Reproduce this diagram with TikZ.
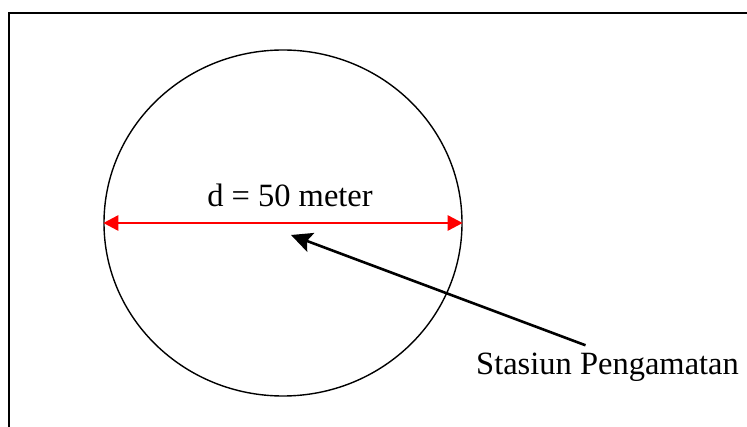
\documentclass[tikz,border=0pt]{standalone}
\usepackage{fontspec}
\setmainfont{Liberation Serif}
\usetikzlibrary{arrows.meta,positioning,shapes.geometric,calc}
\tikzset{
  frm/.style   ={draw=black,line width=1.8pt},
  plot/.style  ={draw=black,ellipse,inner sep=0pt,line width=1.4pt},
  dia/.style   ={{Triangle[length=15pt,width=15pt]}-{Triangle[length=15pt,width=15pt]},
                 draw=red,line width=2.6pt},
  ptr/.style   ={-{Stealth[length=21pt,width=20pt,inset=4pt]},draw=black,line width=2.6pt},
  lbl/.style   ={font=\fontsize{32.5}{38}\selectfont,inner sep=0pt},
}

\begin{document}
\begin{tikzpicture}[x=1pt, y=-1pt]
\useasboundingbox (0,0) rectangle (747,427);
\clip (0,0) rectangle (747,427);

% ===== frame (cut off at right and bottom) ================================
\draw[frm] (9,13) rectangle (780,460);

% ===== sampling plot ======================================================
\node[plot,minimum width=358pt,minimum height=346pt] (plot) at (283,223) {};
\draw[dia] (plot.west) -- (plot.east);
\node[lbl,anchor=base] (diam) at (290,207) {d = 50 meter};

% ===== observation station ================================================
\coordinate (pusat) at (291,235);
\node[lbl,anchor=base west] (stasiun) at (476,375) {Stasiun Pengamatan};
\draw[ptr] ([xshift=-22pt,yshift=8pt]stasiun.north) -- (pusat);
\end{tikzpicture}
\end{document}
